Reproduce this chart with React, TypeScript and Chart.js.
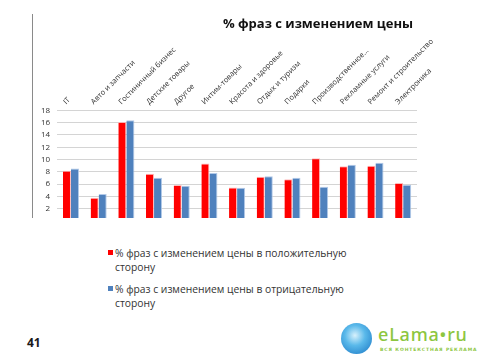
import React, { useEffect, useRef } from "react";
import { Chart, registerables } from "chart.js";

Chart.register(...registerables);

const categories = [
  "IT",
  "Авто и запчасти",
  "Гостиничный бизнес",
  "Детские товары",
  "Другое",
  "Интим-товары",
  "Красота и здоровье",
  "Отдых и туризм",
  "Подарки",
  "Производственное...",
  "Рекламные услуги",
  "Ремонт и строительство",
  "Электроника",
];

const positiveValues = [8.2, 3.8, 16.1, 7.7, 5.85, 9.35, 5.45, 7.2, 6.8, 10.2, 8.9, 9.0, 6.2];
const negativeValues = [8.55, 4.4, 16.4, 7.05, 5.75, 7.8, 5.4, 7.3, 7.05, 5.6, 9.15, 9.5, 5.9];

const yTickValues = [2, 4, 6, 8, 10, 12, 14, 16, 18];

const titleText = "% фраз с изменением цены";
const positiveLabel = ["% фраз с изменением цены в положительную", "сторону"];
const negativeLabel = ["% фраз с изменением цены в отрицательную", "сторону"];

const RED = "#FF0000";
const BLUE = "#4F81BD";

export default function App() {
  const canvasRef = useRef<HTMLCanvasElement | null>(null);

  useEffect(() => {
    document.body.style.margin = "0";
    const ctx = canvasRef.current;
    if (!ctx) return;
    const chart = new Chart(ctx, {
      type: "bar",
      data: {
        labels: categories,
        datasets: [
          {
            label: positiveLabel.join(" "),
            data: positiveValues,
            backgroundColor: RED,
            borderColor: "rgba(255,170,170,0.8)",
            borderWidth: { top: 1, right: 1, left: 0, bottom: 0 },
            categoryPercentage: 0.58,
            barPercentage: 1,
          },
          {
            label: negativeLabel.join(" "),
            data: negativeValues,
            backgroundColor: BLUE,
            borderColor: "rgba(170,195,230,0.9)",
            borderWidth: { top: 1, right: 1, left: 0, bottom: 0 },
            categoryPercentage: 0.58,
            barPercentage: 1,
          },
        ],
      },
      options: {
        animation: false,
        responsive: false,
        maintainAspectRatio: false,
        layout: { padding: { left: 34, right: 63, top: 33, bottom: 12 } },
        plugins: {
          legend: { display: false },
          title: { display: false },
          tooltip: { enabled: false },
        },
        scales: {
          x: {
            position: "top",
            grid: { display: false, drawTicks: false },
            border: { display: false },
            ticks: {
              autoSkip: false,
              maxRotation: 45,
              minRotation: 45,
              padding: 4,
              color: "#333",
              font: { family: "Open Sans", size: 7.5 },
            },
          },
          y: {
            min: 0.5,
            max: 18,
            afterBuildTicks: (axis: any) => {
              axis.ticks = yTickValues.map((v) => ({ value: v }));
            },
            grid: { color: "#d4d4d4", lineWidth: 1, drawTicks: false },
            border: { display: false },
            ticks: {
              padding: 7,
              color: "#333",
              font: { family: "Open Sans", size: 8 },
            },
          },
        },
      },
    });
    return () => chart.destroy();
  }, []);

  const legendRow = (color: string, lines: string[], top: number) => (
    <div style={{ position: "absolute", left: 108, top, fontFamily: "Open Sans", fontSize: 10.3, color: "#333", lineHeight: "14px" }}>
      <div style={{ position: "absolute", left: 0, top: 4, width: 5, height: 5, background: color }} />
      <div style={{ marginLeft: 7 }}>
        {lines.map((l, i) => (
          <div key={i} style={{ whiteSpace: "nowrap" }}>{l}</div>
        ))}
      </div>
    </div>
  );

  return (
    <div style={{ position: "relative", width: 480, height: 360, background: "#fff", overflow: "hidden" }}>
      <div style={{ position: "absolute", left: 32, top: 14, width: 1, height: 204, background: "#8a8a8a" }} />
      <canvas ref={canvasRef} width={480} height={230} style={{ position: "absolute", left: 0, top: 0 }} />
      <div
        style={{
          position: "absolute",
          left: 218,
          width: 200,
          top: 14,
          textAlign: "center",
          fontFamily: "Open Sans",
          fontWeight: 700,
          fontSize: 13,
          color: "#111",
        }}
      >
        {titleText}
      </div>
      {legendRow(RED, positiveLabel, 246)}
      {legendRow(BLUE, negativeLabel, 282)}
      <div style={{ position: "absolute", left: 27, top: 334, fontFamily: "Open Sans", fontWeight: 700, fontSize: 12, color: "#1a1a1a" }}>41</div>
      <div
        style={{
          position: "absolute",
          left: 341,
          top: 323,
          width: 31,
          height: 31,
          borderRadius: "50%",
          background: "radial-gradient(circle at 45% 40%, #d8f1fc 0%, #5ab9ea 40%, #1673c2 100%)",
        }}
      />
      <div style={{ position: "absolute", left: 378, top: 322, fontFamily: "Noto Sans", fontSize: 18, fontWeight: 500, color: "#8dc63f", letterSpacing: 0.8, lineHeight: "24px" }}>
        eLama•ru
      </div>
      <div style={{ position: "absolute", left: 380, top: 347, fontFamily: "DejaVu Sans", fontSize: 4.5, fontWeight: 700, color: "#8dc63f", letterSpacing: 0.9, whiteSpace: "nowrap" }}>
        ВСЯ КОНТЕКСТНАЯ РЕКЛАМА
      </div>
    </div>
  );
}
